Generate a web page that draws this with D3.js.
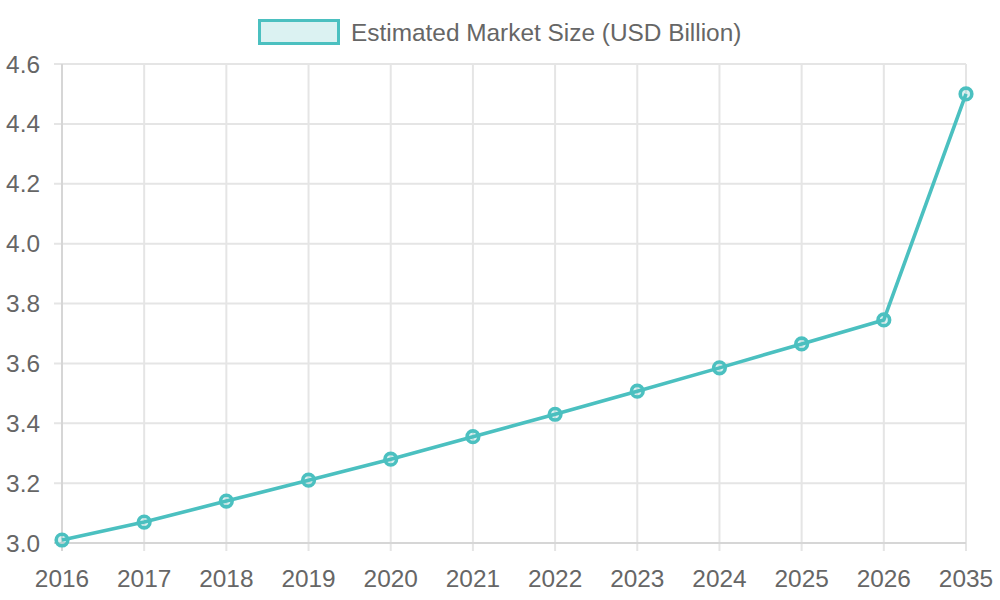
<!DOCTYPE html>
<html><head><meta charset="utf-8">
<script src="https://cdn.jsdelivr.net/npm/d3@7"></script>
<style>body{margin:0;background:#fff}svg{display:block}text{font-family:"Liberation Sans",Arial,sans-serif;fill:#666}</style>
</head><body>
<svg id="c" width="1000" height="600"></svg>
<script>
const categories = ["2016","2017","2018","2019","2020","2021","2022","2023","2024","2025","2026","2035"];
const marketSize = [3.01,3.07,3.14,3.21,3.28,3.355,3.43,3.507,3.585,3.665,3.745,4.5];
const yTicks = [3.0,3.2,3.4,3.6,3.8,4.0,4.2,4.4,4.6];
const seriesLabel = "Estimated Market Size (USD Billion)";

const svg = d3.select("#c");
const L = 62, R = 966, T = 64, B = 543;
const color = "rgb(75,192,192)", fill = "rgba(75,192,192,0.2)";
const x = d3.scalePoint().domain(categories).range([L, R]);
const y = d3.scaleLinear().domain([3.0, 4.6]).range([B, T]);
const fs = 24.4;

// grid
const g = svg.append("g");
g.selectAll(".hy").data(yTicks).join("line")
  .attr("x1", L - 8).attr("x2", R).attr("y1", d => y(d)).attr("y2", d => y(d))
  .attr("stroke", "#e5e5e5").attr("stroke-width", 2);
g.selectAll(".vx").data(categories).join("line")
  .attr("x1", d => x(d)).attr("x2", d => x(d)).attr("y1", T).attr("y2", B + 8)
  .attr("stroke", "#e5e5e5").attr("stroke-width", 2);
// axis lines
g.append("line").attr("x1", L).attr("x2", L).attr("y1", T).attr("y2", B + 8).attr("stroke", "#d6d6d6").attr("stroke-width", 2);
g.append("line").attr("x1", L - 8).attr("x2", R).attr("y1", B).attr("y2", B).attr("stroke", "#d6d6d6").attr("stroke-width", 2);

// tick labels
svg.selectAll(".yl").data(yTicks).join("text")
  .attr("x", L - 22).attr("y", d => y(d)).attr("dy", "0.35em")
  .attr("text-anchor", "end").attr("font-size", fs).text(d => d.toFixed(1));
svg.selectAll(".xl").data(categories).join("text")
  .attr("x", d => x(d)).attr("y", 587)
  .attr("text-anchor", "middle").attr("font-size", fs).text(d => d);

// line
const line = d3.line().x((d, i) => x(categories[i])).y(d => y(d));
svg.append("path").datum(marketSize).attr("d", line)
  .attr("fill", "none").attr("stroke", color).attr("stroke-width", 3.6).attr("stroke-linejoin", "round");
svg.selectAll(".pt").data(marketSize).join("circle")
  .attr("cx", (d, i) => x(categories[i])).attr("cy", d => y(d)).attr("r", 5.8)
  .attr("fill", fill).attr("stroke", color).attr("stroke-width", 3.6);

// legend
svg.append("rect").attr("x", 259.5).attr("y", 20.5).attr("width", 79).attr("height", 23)
  .attr("fill", "#dbf2f2").attr("stroke", color).attr("stroke-width", 3);
svg.append("text").attr("x", 351).attr("y", 32).attr("dy", "0.35em")
  .attr("font-size", fs).text(seriesLabel);
</script>
</body></html>
